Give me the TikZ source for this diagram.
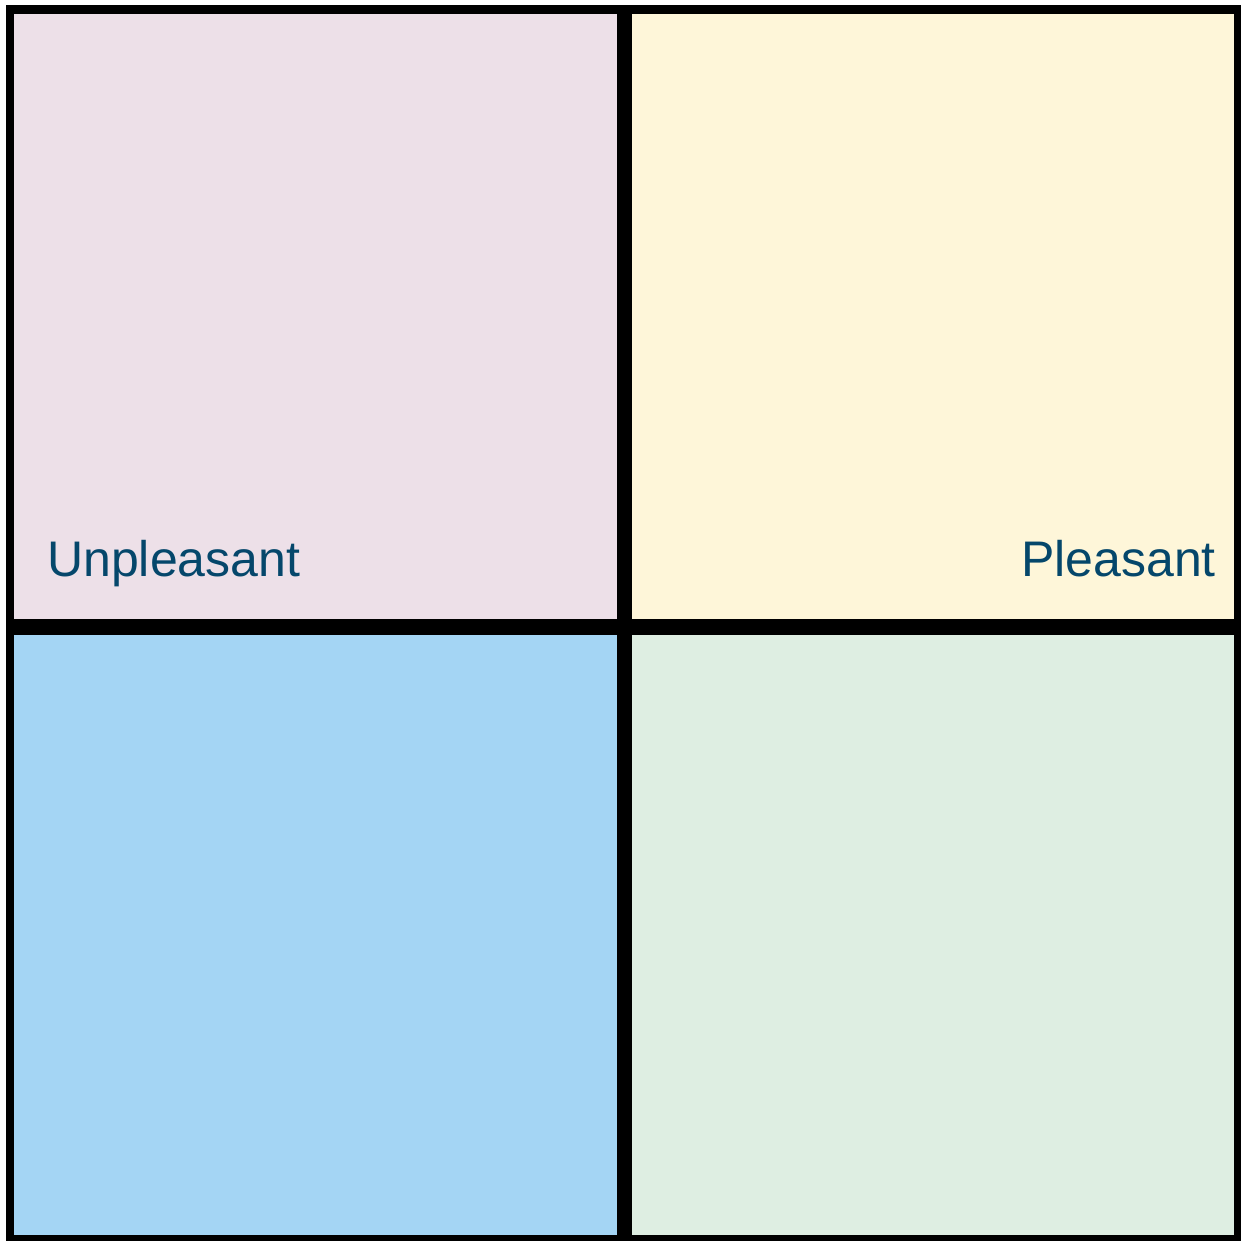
\documentclass[tikz,border=0pt]{standalone}
\usepackage{fontspec}
\setmainfont{Liberation Sans}
\usepackage{xcolor}
\definecolor{unpleasantpink}{HTML}{EDE0E8}
\definecolor{pleasantyellow}{HTML}{FEF6D9}
\definecolor{calmblue}{HTML}{A4D5F4}
\definecolor{calmgreen}{HTML}{DEEEE2}
\definecolor{labelblue}{HTML}{05476B}
\tikzset{
  quadlabel/.style={inner sep=0pt, text=labelblue, font=\fontsize{50}{54}\selectfont}
}

\begin{document}
\begin{tikzpicture}[x=1pt, y=-1pt]
        \useasboundingbox (0,0) rectangle (1241,1241);
        \fill[white] (0,0) rectangle (1241,1241);

        % black frame and dividers
        \fill[black] (6,5) rectangle (1241,1241);

        % upper left quadrant
        \fill[unpleasantpink] (14,14) rectangle (617,619);
        % upper right quadrant
        \fill[pleasantyellow] (632,14) rectangle (1234,619);
        % lower left quadrant
        \fill[calmblue] (14,635) rectangle (617,1235);
        % lower right quadrant
        \fill[calmgreen] (632,635) rectangle (1234,1235);

        % Text elements
        \node[quadlabel, anchor=base west] (unpleasant) at (47,576) {Unpleasant};
        \node[quadlabel, anchor=base east] (pleasant) at (1216,576) {Pleasant};

    \end{tikzpicture}
\end{document}
